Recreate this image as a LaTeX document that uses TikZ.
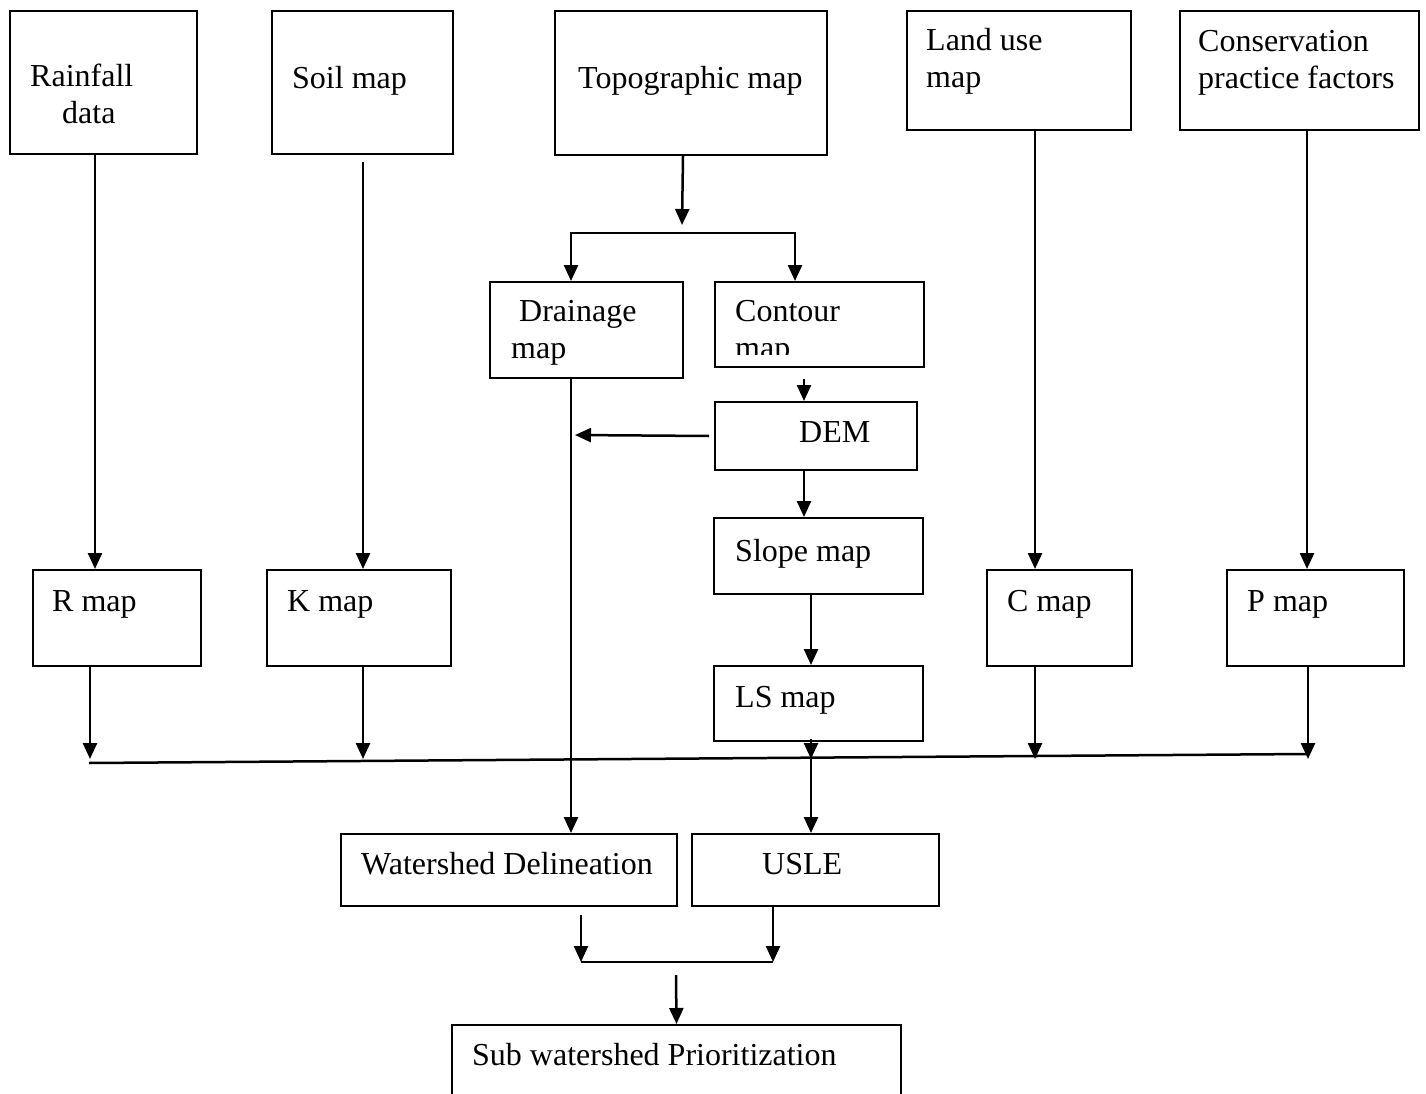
\documentclass[tikz,border=0pt]{standalone}
\usepackage{fontspec}
\setmainfont{Liberation Serif}
\usetikzlibrary{arrows.meta,positioning}
\tikzstyle{block} = [
  rectangle, draw, line width=2pt, anchor=north west, inner sep=0pt
]
\tikzstyle{txt} = [
  anchor=base west, inner sep=0pt, align=left,
  font=\fontsize{32}{37}\selectfont
]
\tikzstyle{link} = [line width=2.5pt]
\tikzstyle{arr} = [line width=2.5pt, -{Triangle[length=16pt,width=14pt]}]
\tikzstyle{biarr} = [line width=2.5pt,
  {Triangle[length=16pt,width=14pt]}-{Triangle[length=16pt,width=14pt]}]

\begin{document}
\begin{tikzpicture}[x=1pt, y=-1pt]
    \clip (0,0) rectangle (1426,1094);

    % input layers
    \node[block, minimum width=187pt, minimum height=143pt] (rain) at (9,10) {};
    \node[block, minimum width=181pt, minimum height=143pt] (soil) at (271,10) {};
    \node[block, minimum width=272pt, minimum height=144pt] (topo) at (554,10) {};
    \node[block, minimum width=224pt, minimum height=119pt] (land) at (906,10) {};
    \node[block, minimum width=239pt, minimum height=119pt] (cons) at (1179,10) {};
    \node[txt] (rainTxt) at (30,124) {Rainfall\\\hspace*{32pt}data};
    \node[txt] (soilTxt) at (292,89) {Soil map};
    \node[txt] (topoTxt) at (578,89) {Topographic map};
    \node[txt] (landTxt) at (926,88) {Land use\\map};
    \node[txt] (consTxt) at (1198,89) {Conservation\\practice factors};

    % topographic branch
    \node[block, minimum width=193pt, minimum height=96pt] (drain) at (489,281) {};
    \node[block, minimum width=209pt, minimum height=85pt] (cont) at (714,281) {};
    \node[block, minimum width=202pt, minimum height=68pt] (dem) at (714,401) {};
    \node[block, minimum width=209pt, minimum height=76pt] (slope) at (713,517) {};
    \node[block, minimum width=209pt, minimum height=75pt] (ls) at (713,665) {};
    \node[txt] (drainTxt) at (511,358) {\hspace*{8pt}Drainage\\map};
    \begin{scope}
      \clip (714,281) rectangle (923,354);
      \node[txt] (contTxt) at (735,358) {Contour\\map};
    \end{scope}
    \node[txt] (demTxt) at (799,442) {DEM};
    \node[txt] (slopeTxt) at (735,561) {Slope map};
    \node[txt] (lsTxt) at (735,707) {LS map};

    % factor maps
    \node[block, minimum width=168pt, minimum height=96pt] (rmap) at (32,569) {};
    \node[block, minimum width=184pt, minimum height=96pt] (kmap) at (266,569) {};
    \node[block, minimum width=145pt, minimum height=96pt] (cmap) at (986,569) {};
    \node[block, minimum width=177pt, minimum height=96pt] (pmap) at (1226,569) {};
    \node[txt] (rTxt) at (52,611) {R map};
    \node[txt] (kTxt) at (287,611) {K map};
    \node[txt] (cTxt) at (1007,611) {C map};
    \node[txt] (pTxt) at (1247,611) {P map};

    % outputs
    \node[block, minimum width=336pt, minimum height=72pt] (wd) at (340,833) {};
    \node[block, minimum width=247pt, minimum height=72pt] (usle) at (691,833) {};
    \node[block, minimum width=449pt, minimum height=100pt] (sub) at (451,1024) {};
    \node[txt] (wdTxt) at (361,874) {Watershed Delineation};
    \node[txt] (usleTxt) at (762,874) {USLE};
    \node[txt] (subTxt) at (472,1065) {Sub watershed Prioritization};

    \coordinate (fork) at (682,233);
    \coordinate (dj) at (575,435);
    \coordinate (mL) at (89,763);
    \coordinate (mR) at (1307,754);
    \coordinate (tip) at (0,759);
    \coordinate (join) at (676,962);

    \draw[arr] ([xshift=-8.5pt]rain.south) -- ([xshift=-22pt]rmap.north);
    \draw[arr] ([xshift=0.5pt,yshift=-7pt]soil.south) -- ([xshift=4pt]kmap.north);
    \draw[arr] ([xshift=16pt]land.south) -- ([xshift=-24.5pt]cmap.north);
    \draw[arr] ([xshift=7.5pt]cons.south) -- ([xshift=-8.5pt]pmap.north);

    \draw[arr] ([xshift=-8pt]topo.south) -- ([yshift=8pt]fork);
    \draw[biarr] ([xshift=-15.5pt]drain.north) |- (fork) -| ([xshift=-24.5pt]cont.north);
    \draw[arr] ([xshift=-15.5pt,yshift=-11pt]cont.south) -- ([xshift=-12pt]dem.north);
    \draw[arr] ([xshift=-5pt]dem.west) -- (dj);
    \draw[arr] ([xshift=-15.5pt]drain.south) -- ([xshift=62pt]wd.north);
    \draw[arr] ([xshift=-12pt]dem.south) -- ([xshift=-14.5pt]slope.north);
    \draw[arr] ([xshift=-7.5pt]slope.south) -- ([xshift=-7.5pt]ls.north);

    \draw[link] (mL) -- (mR);
    \draw[arr] ([xshift=-27pt]rmap.south) -- ([xshift=-27pt]rmap.south |- tip);
    \draw[arr] ([xshift=4pt]kmap.south) -- ([xshift=4pt]kmap.south |- tip);
    \draw[arr] ([xshift=-24.5pt]cmap.south) -- ([xshift=-24.5pt]cmap.south |- tip);
    \draw[arr] ([xshift=-7.5pt]pmap.south) -- ([xshift=-7.5pt]pmap.south |- tip);
    \draw[arr] ([xshift=-7.5pt,yshift=3pt]ls.south) -- ([xshift=-7.5pt]ls.south |- tip);
    \draw[arr] ([xshift=-4.5pt]usle.north |- tip) -- ([xshift=-4.5pt]usle.north);

    \draw[arr] ([xshift=72pt,yshift=-8pt]wd.south) -- ([xshift=72pt]wd.south |- join);
    \draw[arr] ([xshift=-42.5pt]usle.south) -- ([xshift=-42.5pt]usle.south |- join);
    \draw[link] ([xshift=72pt]wd.south |- join) -- ([xshift=-42.5pt]usle.south |- join);
    \draw[arr] ([yshift=-13pt]join) -- (sub.north);
\end{tikzpicture}
\end{document}
